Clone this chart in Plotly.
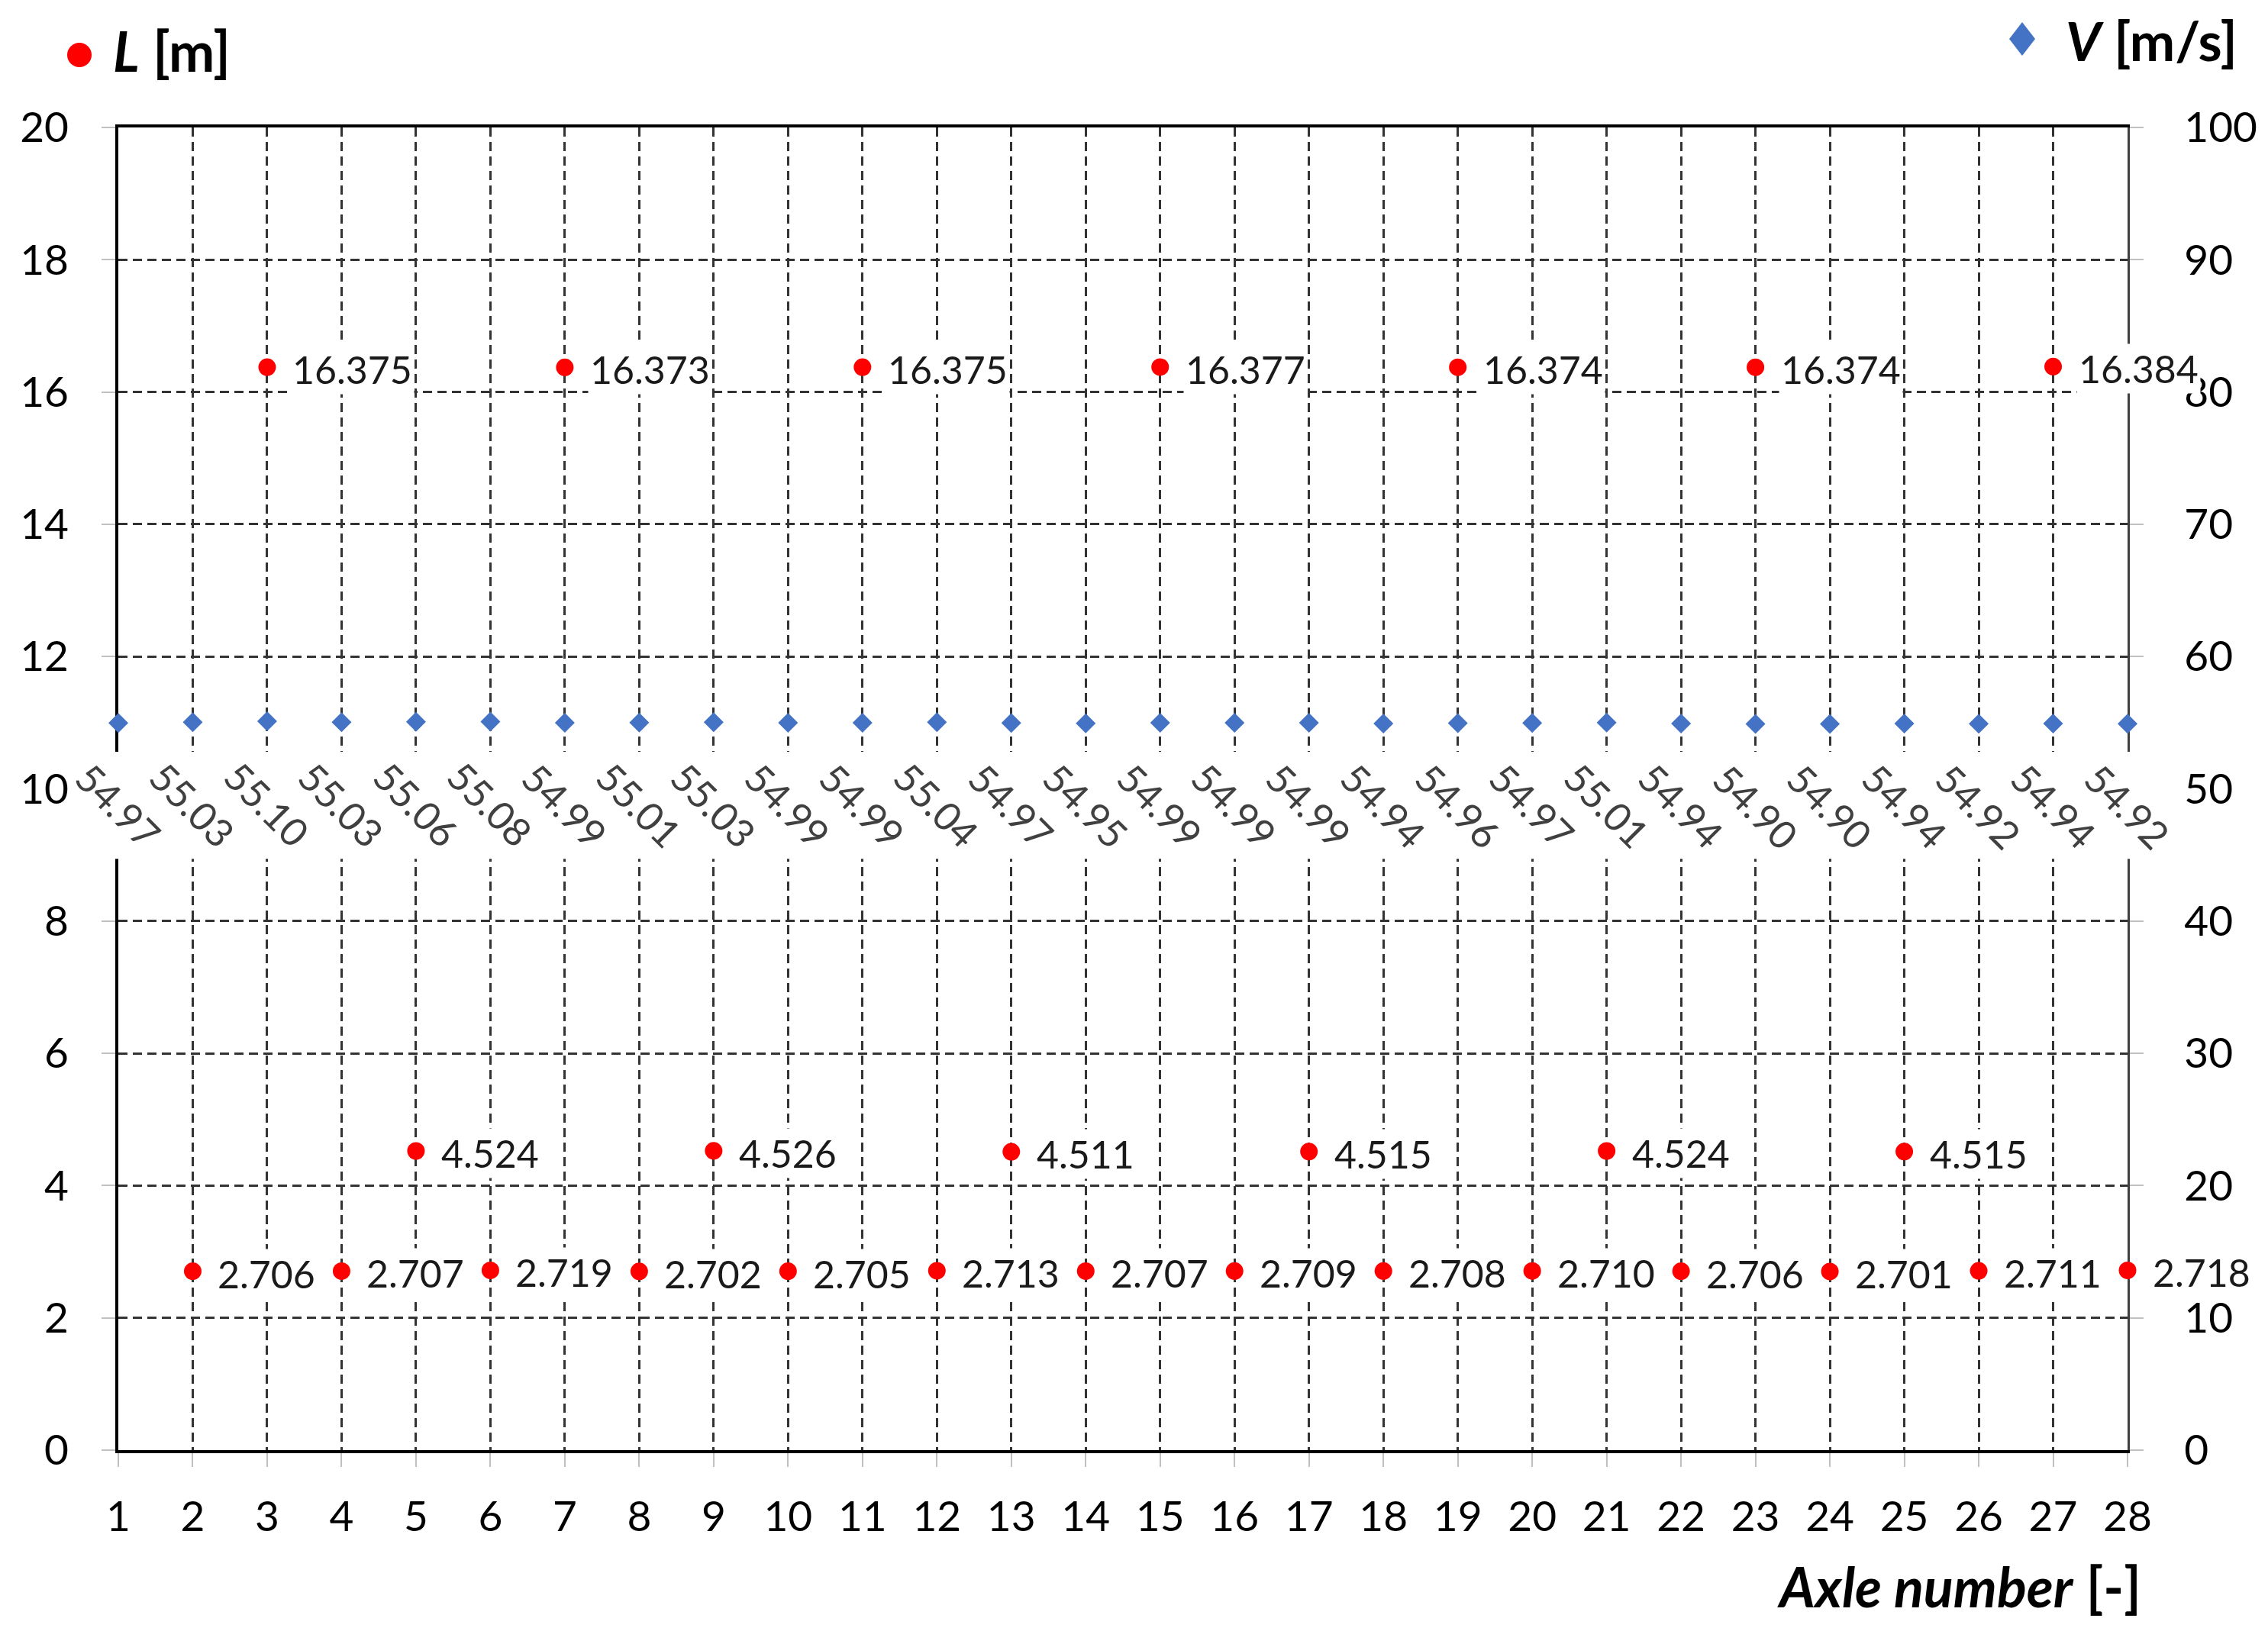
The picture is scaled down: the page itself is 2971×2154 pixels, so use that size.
import plotly.graph_objects as go

# ---------------- data ----------------
axle = list(range(1, 29))
L_axle = list(range(2, 29))
L_vals = [2.706, 16.375, 2.707, 4.524, 2.719, 16.373, 2.702, 4.526, 2.705,
          16.375, 2.713, 4.511, 2.707, 16.377, 2.709, 4.515, 2.708, 16.374,
          2.710, 4.524, 2.706, 16.374, 2.701, 4.515, 2.711, 16.384, 2.718]
V_vals = [54.97, 55.03, 55.10, 55.03, 55.06, 55.08, 54.99, 55.01, 55.03, 54.99,
          54.99, 55.04, 54.97, 54.95, 54.99, 54.99, 54.99, 54.94, 54.96, 54.97,
          55.01, 54.94, 54.90, 54.90, 54.94, 54.92, 54.94, 54.92]
left_ticks = list(range(0, 21, 2))
right_ticks = list(range(0, 101, 10))

FONT = "Lato"
OFF = 8                      # default page (body) margin of the html page
W, H = 2971 - 2 * OFF, 2154 - 2 * OFF
PL, PR, PT, PB = 155, 2787, 167, 1900   # plot area in page pixels
ML, MT = PL - OFF, PT - OFF
MR = OFF + W - PR
MB = OFF + H - PB


def px_x(p):
    return (p - PL) / (PR - PL)


def px_y(p):
    return (PB - p) / (PB - PT)


fig = go.Figure()
fig.add_trace(go.Scatter(x=L_axle, y=L_vals, mode="markers", yaxis="y",
                         marker=dict(symbol="circle", size=23, color="#FF0000"),
                         cliponaxis=False, showlegend=False))
fig.add_trace(go.Scatter(x=axle, y=V_vals, mode="markers", yaxis="y2",
                         marker=dict(symbol="diamond", size=20, color="#4472C4"),
                         cliponaxis=False, showlegend=False))

ann = []
for x, v in zip(L_axle, L_vals):
    ann.append(dict(x=x, y=v, xref="x", yref="y", text=f"{v:.3f}",
                    xanchor="left", yanchor="middle", xshift=30, yshift=-3,
                    showarrow=False, bgcolor="white", borderpad=2,
                    font=dict(family=FONT, size=50, color="#1a1a1a")))
for x, v in zip(axle, V_vals):
    ann.append(dict(x=x, y=v, xref="x", yref="y2", text=f"{v:.2f}",
                    textangle=45, xanchor="center", yanchor="middle",
                    yshift=-108, showarrow=False,
                    font=dict(family=FONT, size=51, color="#404040")))

ann.append(dict(x=px_x(146), y=px_y(66), xref="paper", yref="paper",
                text="<b><i>L</i> [m]</b>", xanchor="left", yanchor="middle",
                showarrow=False, font=dict(family=FONT, size=72, color="black")))
ann.append(dict(x=px_x(2704), y=px_y(52), xref="paper", yref="paper",
                text="<b><i>V</i> [m/s]</b>", xanchor="left", yanchor="middle",
                showarrow=False, font=dict(family=FONT, size=71, color="black")))
ann.append(dict(x=px_x(2807), y=px_y(2078), xref="paper", yref="paper",
                text="<b><i>Axle number</i> [-]</b>", xanchor="right", yanchor="middle",
                showarrow=False, font=dict(family=FONT, size=72, color="black")))

shapes = [
    # white band behind the rotated speed labels
    dict(type="rect", xref="paper", yref="y2", x0=-0.012, x1=1.012, y0=44.7, y1=52.8,
         fillcolor="white", line=dict(width=0), layer="above"),
    # legend markers
    dict(type="circle", xref="paper", yref="paper", xsizemode="pixel", ysizemode="pixel",
         xanchor=px_x(104), yanchor=px_y(72), x0=-16, x1=16, y0=-16, y1=16,
         fillcolor="#FF0000", line=dict(width=0)),
    dict(type="path", xref="paper", yref="paper", xsizemode="pixel", ysizemode="pixel",
         xanchor=px_x(2649), yanchor=px_y(51),
         path="M 0 -22 L 17 0 L 0 22 L -17 0 Z",
         fillcolor="#4472C4", line=dict(width=0)),
]

grid = dict(showgrid=True, gridcolor="#333333", gridwidth=2.8, griddash="12px,7px")
tick = dict(ticks="outside", ticklen=18, tickcolor="#c0c0c0", tickwidth=2,
            tickfont=dict(family=FONT, size=55, color="black"), automargin=False,
            zeroline=False, layer="below traces")
NBSP = "\u00a0"

fig.update_layout(
    width=W, height=H,
    margin=dict(l=ML, r=MR, t=MT, b=MB),
    paper_bgcolor="white", plot_bgcolor="white",
    xaxis=dict(range=[1, 28], tickvals=axle, ticktext=[str(a) for a in axle],
               showline=True, linecolor="black", linewidth=4, mirror=True,
               ticklabelstandoff=18, **grid, **tick),
    yaxis=dict(range=[0, 20], tickvals=left_ticks, showline=True, linecolor="black",
               linewidth=4, ticklabelstandoff=32, **grid, **tick),
    yaxis2=dict(range=[0, 100], tickvals=right_ticks,
                ticktext=[NBSP * 3 + str(t) for t in right_ticks],
                overlaying="y", side="right",
                showgrid=False, showline=True, linecolor="#404040", linewidth=3,
                **tick),
    annotations=ann, shapes=shapes, showlegend=False,
    font=dict(family=FONT),
)

fig.write_html("out.html")
